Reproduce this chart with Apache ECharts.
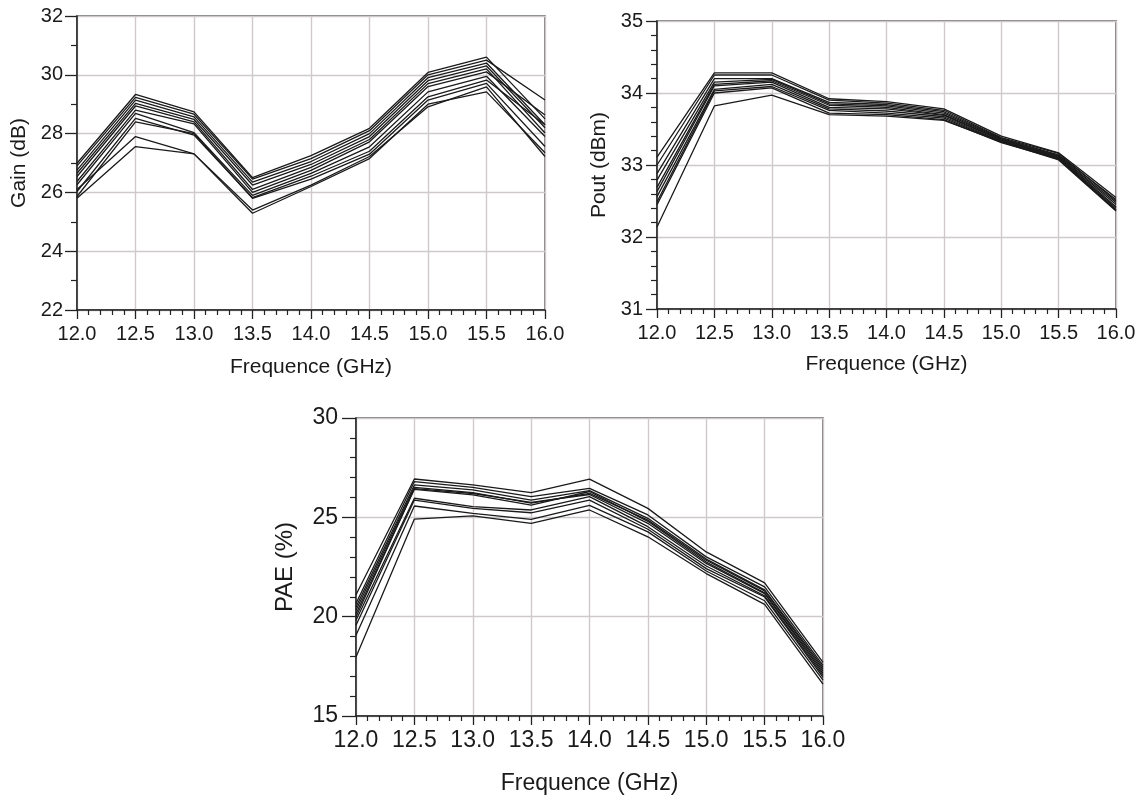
<!DOCTYPE html>
<html>
<head>
<meta charset="utf-8">
<script src="https://cdn.jsdelivr.net/npm/echarts@6/dist/echarts.min.js"></script>
<style>
html,body{margin:0;padding:0;background:#fff;}
#chart{width:1142px;height:798px;}
</style>
</head>
<body>
<div id="chart"></div>
<script>
// ---------- data ----------
const freq = [12.0, 12.5, 13.0, 13.5, 14.0, 14.5, 15.0, 15.5, 16.0];
const freqTicks = [12.0, 12.5, 13.0, 13.5, 14.0, 14.5, 15.0, 15.5, 16.0];
const gainTicks = [22, 24, 26, 28, 30, 32];
const poutTicks = [31, 32, 33, 34, 35];
const paeTicks = [15, 20, 25, 30];

const gainCurves = [
  [26.99, 29.33, 28.74, 26.50, 27.25, 28.18, 30.08, 30.60, 28.50],
  [26.90, 29.23, 28.66, 26.45, 27.15, 28.10, 30.00, 30.50, 29.14],
  [26.76, 29.14, 28.57, 26.35, 27.05, 28.00, 29.90, 30.40, 28.30],
  [26.65, 29.03, 28.48, 26.25, 26.95, 27.90, 29.80, 30.30, 28.20],
  [26.54, 28.94, 28.40, 26.10, 26.85, 27.80, 29.70, 30.20, 28.02],
  [26.37, 28.80, 28.33, 26.00, 26.75, 27.72, 29.60, 30.10, 28.63],
  [26.26, 28.69, 28.03, 25.90, 26.65, 27.55, 29.42, 29.95, 27.90],
  [26.03, 28.52, 27.95, 25.82, 26.55, 27.40, 29.25, 29.82, 28.30],
  [25.86, 28.40, 28.00, 25.80, 26.45, 27.30, 29.14, 29.71, 27.56],
  [26.10, 27.90, 27.31, 25.40, 26.25, 27.22, 28.91, 29.59, 27.22],
  [25.80, 27.56, 27.31, 25.29, 26.20, 27.15, 29.00, 29.42, 27.35]
];

const poutCurves = [
  [33.11, 34.28, 34.28, 33.92, 33.88, 33.78, 33.40, 33.17, 32.55],
  [33.00, 34.25, 34.25, 33.90, 33.86, 33.76, 33.38, 33.16, 32.50],
  [32.88, 34.20, 34.20, 33.87, 33.84, 33.74, 33.37, 33.14, 32.52],
  [32.79, 34.15, 34.19, 33.85, 33.82, 33.72, 33.36, 33.13, 32.48],
  [32.69, 34.12, 34.17, 33.83, 33.80, 33.70, 33.35, 33.12, 32.45],
  [32.63, 34.10, 34.15, 33.80, 33.78, 33.69, 33.34, 33.11, 32.42],
  [32.56, 34.05, 34.12, 33.78, 33.75, 33.67, 33.33, 33.10, 32.40],
  [32.49, 34.03, 34.09, 33.76, 33.72, 33.65, 33.32, 33.09, 32.38],
  [32.45, 34.00, 34.07, 33.72, 33.70, 33.63, 33.31, 33.08, 32.37],
  [32.14, 33.82, 33.97, 33.70, 33.68, 33.62, 33.32, 33.07, 32.36]
];

const paeCurves = [
  [21.10, 26.93, 26.63, 26.24, 26.92, 25.45, 23.26, 21.70, 17.70],
  [20.66, 26.80, 26.51, 26.04, 26.46, 25.12, 23.01, 21.50, 17.55],
  [20.49, 26.63, 26.38, 25.87, 26.34, 24.95, 22.90, 21.35, 17.45],
  [20.32, 26.51, 26.24, 25.71, 26.21, 24.86, 22.84, 21.30, 17.35],
  [20.15, 26.41, 26.13, 25.62, 26.30, 24.80, 22.75, 21.20, 17.25],
  [19.98, 26.45, 26.20, 25.75, 26.15, 24.70, 22.68, 21.16, 17.15],
  [19.82, 25.96, 25.54, 25.37, 26.04, 24.53, 22.55, 21.05, 17.05],
  [19.57, 25.87, 25.45, 25.23, 25.87, 24.40, 22.42, 20.99, 16.95],
  [19.06, 25.57, 25.20, 24.90, 25.60, 24.27, 22.30, 20.80, 16.80],
  [17.97, 24.91, 25.07, 24.70, 25.37, 24.02, 22.17, 20.62, 16.60]
];

// ---------- styling ----------
const FONT = '"Liberation Sans", Arial, Helvetica, sans-serif';
const AXIS_COLOR = '#222';
const GRID_COLOR = '#d0c9c9';
const TEXT_COLOR = '#1a1a1a';

function xAxisFor(gridIndex, fontSize, nameFont, nameGap, margin) {
  return {
    type: 'value', gridIndex: gridIndex,
    min: freqTicks[0], max: freqTicks[freqTicks.length - 1],
    interval: freqTicks[1] - freqTicks[0],
    name: 'Frequence (GHz)', nameLocation: 'middle', nameGap: nameGap,
    nameMoveOverlap: false,
    nameTextStyle: { fontFamily: FONT, fontSize: nameFont, color: TEXT_COLOR },
    axisLine: { show: true, onZero: false, lineStyle: { color: AXIS_COLOR, width: 1.5 } },
    axisTick: { show: true, inside: false, length: 9, lineStyle: { color: AXIS_COLOR, width: 1.3 } },
    minorTick: { show: true, splitNumber: 5, length: 5, lineStyle: { color: AXIS_COLOR, width: 1.2 } },
    splitLine: { show: true, lineStyle: { color: GRID_COLOR, width: 1.4 } },
    axisLabel: { fontFamily: FONT, fontSize: fontSize, color: TEXT_COLOR, margin: margin,
      formatter: v => v.toFixed(1), showMinLabel: true, showMaxLabel: true, hideOverlap: false }
  };
}

function yAxisFor(gridIndex, ticks, minorSplit, name, fontSize, nameFont, nameGap, tickLen, margin) {
  return {
    type: 'value', gridIndex: gridIndex,
    min: ticks[0], max: ticks[ticks.length - 1], interval: ticks[1] - ticks[0],
    name: name, nameLocation: 'middle', nameGap: nameGap,
    nameMoveOverlap: false,
    nameTextStyle: { fontFamily: FONT, fontSize: nameFont, color: TEXT_COLOR },
    axisLine: { show: true, onZero: false, lineStyle: { color: AXIS_COLOR, width: 1.5 } },
    axisTick: { show: true, inside: false, length: tickLen, lineStyle: { color: AXIS_COLOR, width: 1.3 } },
    minorTick: { show: true, splitNumber: minorSplit, length: 6, lineStyle: { color: AXIS_COLOR, width: 1.2 } },
    splitLine: { show: true, lineStyle: { color: GRID_COLOR, width: 1.4 } },
    axisLabel: { fontFamily: FONT, fontSize: fontSize, color: TEXT_COLOR, margin: margin,
      showMinLabel: true, showMaxLabel: true, hideOverlap: false }
  };
}

function seriesFor(curves, idx) {
  return curves.map((vals, k) => ({
    type: 'line', name: 'c' + idx + '_' + k,
    xAxisIndex: idx, yAxisIndex: idx,
    data: freq.map((f, i) => [f, vals[i]]),
    showSymbol: false, symbol: 'none', silent: true, animation: false,
    lineStyle: { color: '#1a1a1a', width: 1.3 },
    clip: true
  }));
}

const gridCommon = { show: true, borderColor: '#555', borderWidth: 1.5, backgroundColor: 'transparent',
  containLabel: false, outerBoundsMode: 'none' };

const option = {
  animation: false,
  backgroundColor: '#fff',
  grid: [
    Object.assign({ left: 77, top: 16, width: 468, height: 294 }, gridCommon),
    Object.assign({ left: 657, top: 21, width: 459, height: 288 }, gridCommon),
    Object.assign({ left: 356, top: 418, width: 467, height: 298 }, gridCommon)
  ],
  xAxis: [
    xAxisFor(0, 20, 21, 47, 14),
    xAxisFor(1, 20, 21, 45, 14),
    xAxisFor(2, 23, 23, 56, 13)
  ],
  yAxis: [
    yAxisFor(0, gainTicks, 2, 'Gain (dB)', 20, 21, 47, 12, 14),
    yAxisFor(1, poutTicks, 5, 'Pout (dBm)', 20, 21, 47, 11, 14),
    yAxisFor(2, paeTicks, 5, 'PAE (%)', 23, 24, 59, 14, 18)
  ],
  series: [].concat(seriesFor(gainCurves, 0), seriesFor(poutCurves, 1), seriesFor(paeCurves, 2))
};

const chart = echarts.init(document.getElementById('chart'), null, { renderer: 'canvas' });
chart.setOption(option);
</script>
</body>
</html>
